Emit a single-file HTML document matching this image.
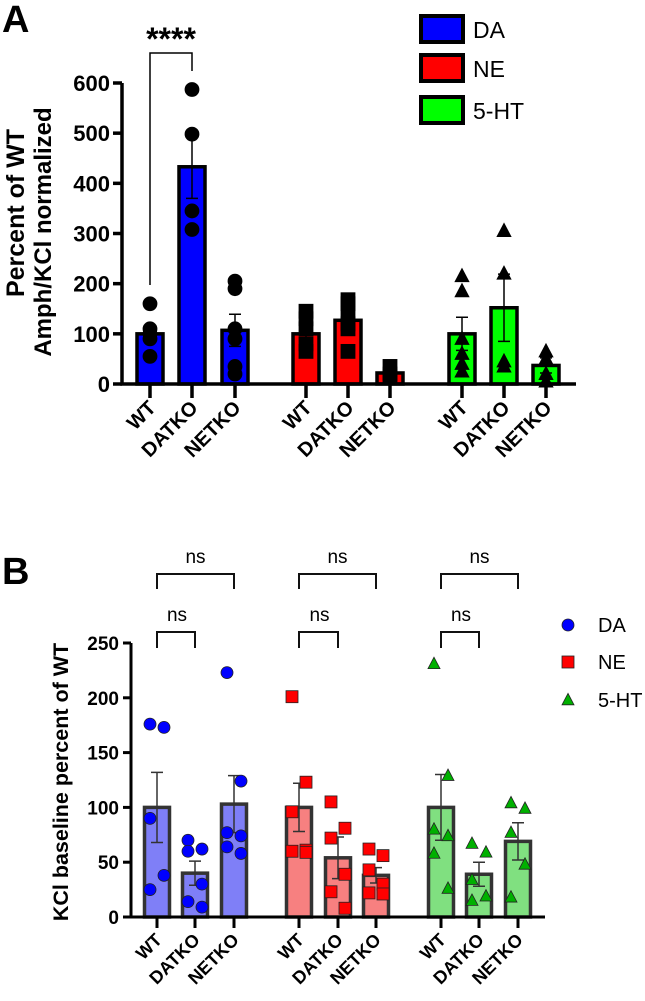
<!DOCTYPE html>
<html><head><meta charset="utf-8"><style>
html,body{margin:0;padding:0;background:#fff}
svg{display:block;font-family:"Liberation Sans",Arial,sans-serif}
</style></head><body>
<svg id="fig" width="645" height="1001" viewBox="0 0 645 1001" xmlns="http://www.w3.org/2000/svg">
<text x="2" y="32" font-size="38" font-weight="bold">A</text>
<text x="2" y="584" font-size="38" font-weight="bold">B</text>
<g id="gA"></g>
<g id="gB"></g>
</svg>
<script>
// ---- Panel A data ----
const catsA = ["WT","DATKO","NETKO","WT","DATKO","NETKO","WT","DATKO","NETKO"];
const meansA = [100,433,107,100,127,22,100,152,37];
const semA = [15,63,32,30,18,8,33,67,15];
const ptsA = [[160,110,100,90,55],[587,498,345,308],[205,190,110,90,35,20],[145,130,110,80,65],[168,160,140,120,110,65],[35,20,15],[215,185,90,60,40,25],[305,220,45,35],[65,50,20,5]];
const ticksA = [0,100,200,300,400,500,600];
// ---- Panel B data ----
const catsB = ["WT","DATKO","NETKO","WT","DATKO","NETKO","WT","DATKO","NETKO"];
const meansB = [100,40,103,100,54,38,100,39,69];
const semB = [32,11,26,22,19,7,30,11,17];
const ptsB = [[176,173,90,38,25],[70,62,60,30,14,9],[223,124,77,74,64,58],[201,123,96,61,60,59],[105,81,72,39,23,8],[62,56,43,30,22,21],[231,129,80,74,58,26],[67,59,34,19,15],[104,99,77,48,18]];
const ticksB = [0,50,100,150,200,250];
const seriesNames = ["DA","NE","5-HT"];

const NS="http://www.w3.org/2000/svg";
function mk(tag,attrs,parent,txt){const e=document.createElementNS(NS,tag);for(const k in attrs)e.setAttribute(k,attrs[k]);if(txt!==undefined)e.textContent=txt;parent.appendChild(e);return e;}
function marker(g,shape,x,y,s,fill,stroke){
  let e;
  if(shape===0) e=mk('circle',{cx:x,cy:y,r:s,fill:fill,stroke:stroke,'stroke-width':0.8},g);
  else if(shape===1) e=mk('rect',{x:x-s,y:y-s,width:2*s,height:2*s,fill:fill,stroke:stroke,'stroke-width':0.8},g);
  else e=mk('polygon',{points:`${x},${y-s*1.1} ${x-s},${y+s*0.8} ${x+s},${y+s*0.8}`,fill:fill,stroke:stroke,'stroke-width':0.8},g);
  return e;
}

// ---- Panel A ----
(function(){
  const g=document.getElementById('gA');
  const x0=122,x1=576,yb=384,yt=83,max=600;
  const y=v=>yb-(v/max)*(yb-yt);
  const cx=[150,192,235,306,348,390,462,504,546];
  const cols=["#0000ff","#ff0000","#00ff00"];
  const bw=26;
  ticksA.forEach(t=>{
    const tl=mk('line',{x1:x0-9,x2:x0,y1:y(t),y2:y(t),stroke:'#000','stroke-width':3.5},g);
    
    
    const tx=mk('text',{x:x0-12,y:y(t)+8,'text-anchor':'end','font-size':22,'font-weight':'bold'},g,t);
    
    
  });
  catsA.forEach((c,i)=>{
    const s=Math.floor(i/3);
    const b=mk('rect',{x:cx[i]-bw/2,y:y(meansA[i]),width:bw,height:yb-y(meansA[i]),fill:cols[s],stroke:'#000','stroke-width':3.5},g);
    
    
    ptsA[i].forEach((v,j)=>{
      const m=marker(g,s,cx[i],y(v),7,'#000','#000');
      
      
    });
    const e1=y(meansA[i]+semA[i]),e2=y(meansA[i]-semA[i]);
    const el=mk('path',{d:`M${cx[i]},${e1}V${e2}M${cx[i]-6},${e1}H${cx[i]+6}M${cx[i]-6},${e2}H${cx[i]+6}`,stroke:'#000','stroke-width':1.5,fill:'none'},g);
    
    
    const tk=mk('line',{x1:cx[i],x2:cx[i],y1:yb,y2:yb+14,stroke:'#000','stroke-width':3.5},g);
    
    
    const lb=mk('text',{x:cx[i]+7,y:yb+25,'text-anchor':'end','font-size':20,'font-weight':'bold',transform:`rotate(-45 ${cx[i]+7} ${yb+25})`},g,c);
    
    
  });
  const ax=mk('path',{d:`M${x0},${yt}V${yb}H${x1}`,stroke:'#000','stroke-width':3.5,fill:'none'},g);
  
  
  const br=mk('path',{d:`M150,285V53H192V71`,stroke:'#000','stroke-width':1.5,fill:'none'},g);
  
  
  const st=mk('text',{x:171,y:50,'text-anchor':'middle','font-size':32,'font-weight':'bold'},g,'****');
  
  
  const yl=mk('text',{x:0,y:0,'text-anchor':'middle','font-size':25,'font-weight':'bold',transform:'translate(24 213) rotate(-90)'},g,'Percent of WT');
  
  
  const yl2=mk('text',{x:0,y:0,'text-anchor':'middle','font-size':24,'font-weight':'bold',transform:'translate(51 232) rotate(-90)'},g,'Amph/KCl normalized');
  
  
  seriesNames.forEach((n,k)=>{
    const yy=[16,55,97][k];
    const r=mk('rect',{x:421,y:yy,width:42,height:26,fill:cols[k],stroke:'#000','stroke-width':4},g);
    
    
    const t=mk('text',{x:473,y:yy+22,'font-size':23},g,n);
    
    
  });
})();

// ---- Panel B ----
(function(){
  const g=document.getElementById('gB');
  const x0=131,x1=545,yb=917,yt=643,max=250;
  const y=v=>yb-(v/max)*(yb-yt);
  const cx=[157,195,234,299,338,376,441,479,518];
  const fills=["#7f7ff7","#f78080","#80e080"];
  const mcol=["#0000ff","#ff0000","#00b000"];
  const bw=25;
  ticksB.forEach(t=>{
    const tl=mk('line',{x1:x0-8,x2:x0,y1:y(t),y2:y(t),stroke:'#000','stroke-width':3},g);
    
    
    const tx=mk('text',{x:x0-12,y:y(t)+7,'text-anchor':'end','font-size':19,'font-weight':'bold'},g,t);
    
    
  });
  const jit=[-7,7,-7,7,-7,7];
  catsB.forEach((c,i)=>{
    const s=Math.floor(i/3);
    const b=mk('rect',{x:cx[i]-bw/2,y:y(meansB[i]),width:bw,height:yb-y(meansB[i]),fill:fills[s],stroke:'#333','stroke-width':3.5},g);
    
    
    const e1=y(meansB[i]+semB[i]),e2=y(meansB[i]-semB[i]);
    const el=mk('path',{d:`M${cx[i]},${e1}V${e2}M${cx[i]-6},${e1}H${cx[i]+6}M${cx[i]-6},${e2}H${cx[i]+6}`,stroke:'#333','stroke-width':1.5,fill:'none'},g);
    
    
    ptsB[i].forEach((v,j)=>{
      const m=marker(g,s,cx[i]+jit[j],y(v),6,mcol[s],'#222');
      
      
    });
    const tk=mk('line',{x1:cx[i],x2:cx[i],y1:yb,y2:yb+11,stroke:'#000','stroke-width':3},g);
    
    
    const lb=mk('text',{x:cx[i]+6,y:yb+24,'text-anchor':'end','font-size':18,'font-weight':'bold',transform:`rotate(-45 ${cx[i]+6} ${yb+24})`},g,c);
    
    
  });
  const ax=mk('path',{d:`M${x0},${yt}V${yb}H${x1}`,stroke:'#000','stroke-width':3,fill:'none'},g);
  
  
  [0,3,6].forEach(i=>{
    const a=cx[i],m=cx[i+1],f=cx[i+2];
    const b1=mk('path',{d:`M${a},589V574H${f}V589`,stroke:'#111','stroke-width':2,fill:'none'},g);
    
    
    const t1=mk('text',{x:(a+f)/2,y:563,'text-anchor':'middle','font-size':19},g,'ns');
    
    
    const b2=mk('path',{d:`M${a},648V632H${m}V648`,stroke:'#111','stroke-width':2,fill:'none'},g);
    
    
    const t2=mk('text',{x:(a+m)/2+1,y:621,'text-anchor':'middle','font-size':19},g,'ns');
    
    
  });
  const yl=mk('text',{x:0,y:0,'text-anchor':'middle','font-size':21.5,'font-weight':'bold',transform:'translate(68 782) rotate(-90)'},g,'KCl baseline percent of WT');
  
  
  seriesNames.forEach((n,k)=>{
    const yy=[625,662,700][k];
    const m=marker(g,k,568,yy,6,mcol[k],'#222');
    
    
    const t=mk('text',{x:598,y:yy+7,'font-size':20},g,n);
    
    
  });
})();
</script>
</body></html>
